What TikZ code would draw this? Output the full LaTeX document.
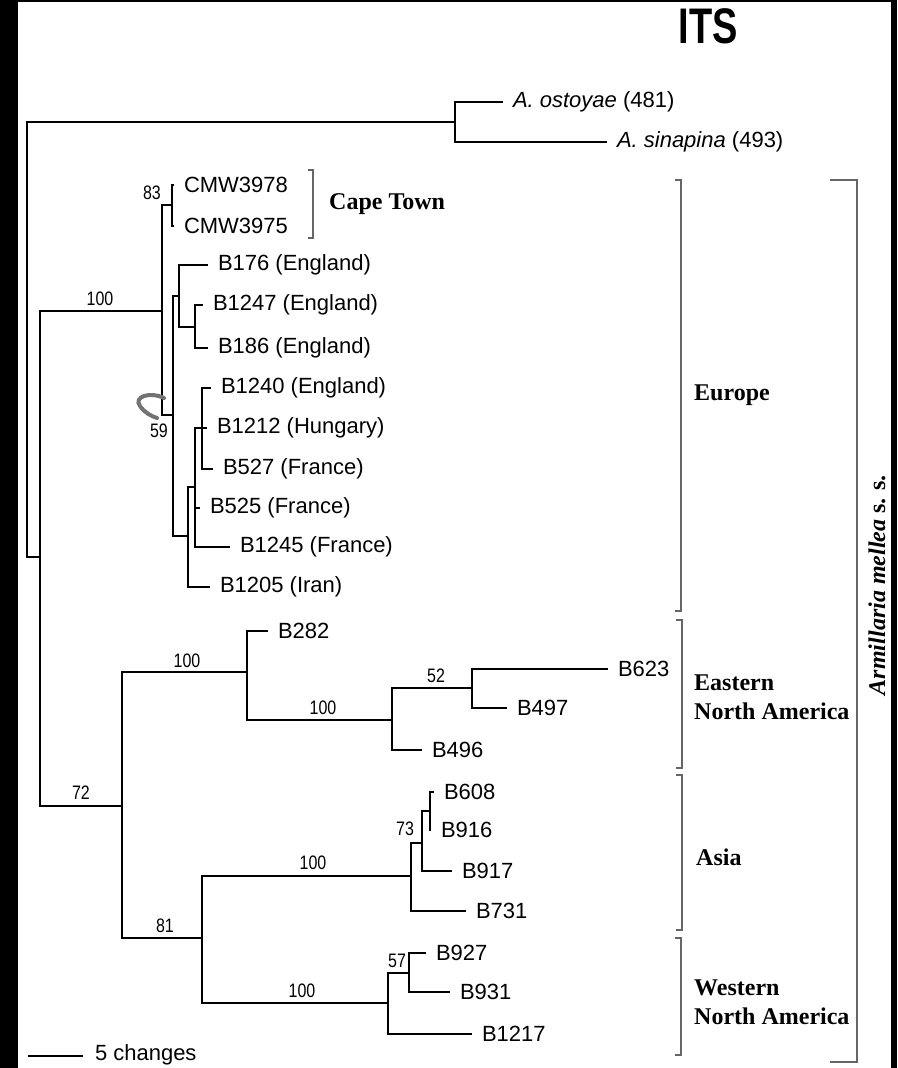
\documentclass[tikz,border=0pt]{standalone}
\usepackage{fontspec}
\setmainfont{Liberation Serif}
\setsansfont{Liberation Sans}
\newfontfamily\estrecha[FakeStretch=0.82]{Liberation Sans}
\newfontfamily\titulo[FakeStretch=0.76]{Liberation Sans}

\begin{document}
\begin{tikzpicture}[x=1pt, y=-1pt,
		rama/.style={draw, line width=2.6pt},
		hoja/.style={anchor=west, inner xsep=10pt, inner ysep=0pt, outer sep=0pt,
			font=\sffamily\fontsize{22}{24}\selectfont},
		soporte/.style={inner sep=0pt, font=\estrecha\fontsize{19.5}{21}\selectfont},
		corchete/.style={draw=black!60, line width=2.2pt},
		region/.style={anchor=west, inner sep=0pt, align=left,
			font=\bfseries\fontsize{24}{29}\selectfont}]
		\useasboundingbox (0,0) rectangle (897,1068);
		% Marco negro
		\fill[black] (0,0) rectangle (18,1068);
		\fill[black] (0,0) rectangle (897,2);
		\fill[black] (891,0) rectangle (897,1068);
		
		% Titulo
		\node[inner sep=0pt, font=\titulo\bfseries\fontsize{50}{50}\selectfont] (its) at (708,26) {ITS};
		
		% Nodos internos
		\coordinate (raiz) at (27,340);
		\coordinate (ext) at (455,122);
		\coordinate (int) at (40,557);
		\coordinate (eur) at (162,311);
		\coordinate (cab) at (172,205);
		\coordinate (n59) at (173,415);
		\coordinate (ng) at (179,296);
		\coordinate (nb) at (195,327);
		\coordinate (nc) at (188,536);
		\coordinate (nd) at (195,487);
		\coordinate (ne) at (202,428);
		\coordinate (n72) at (122,806);
		\coordinate (ena) at (247,672);
		\coordinate (enb) at (392,720);
		\coordinate (n52) at (472,688);
		\coordinate (n81) at (202,938);
		\coordinate (asi) at (411,876);
		\coordinate (n73) at (422,843);
		\coordinate (nf) at (430,811);
		\coordinate (wna) at (388,1003);
		\coordinate (n57) at (409,973);
		
		% Hojas
		\node[hoja] (ost) at (503,102) {\textit{A. ostoyae} (481)};
		\node[hoja] (sin) at (607,142) {\textit{A. sinapina} (493)};
		\node[hoja] (c78) at (174,185) {CMW3978};
		\node[hoja] (c75) at (174,226) {CMW3975};
		\node[hoja] (b176) at (208,265) {B176 (England)};
		\node[hoja] (b1247) at (203,305) {B1247 (England)};
		\node[hoja] (b186) at (208,348) {B186 (England)};
		\node[hoja] (b1240) at (211,388) {B1240 (England)};
		\node[hoja] (b1212) at (207,428) {B1212 (Hungary)};
		\node[hoja] (b527) at (213,469) {B527 (France)};
		\node[hoja] (b525) at (200,508) {B525 (France)};
		\node[hoja] (b1245) at (230,547) {B1245 (France)};
		\node[hoja] (b1205) at (210,587) {B1205 (Iran)};
		\node[hoja] (b282) at (268,631) {B282};
		\node[hoja] (b623) at (608,669) {B623};
		\node[hoja] (b497) at (507,708) {B497};
		\node[hoja] (b496) at (422,750) {B496};
		\node[hoja] (b608) at (434,792) {B608};
		\node[hoja] (b916) at (431,830) {B916};
		\node[hoja] (b917) at (452,871) {B917};
		\node[hoja] (b731) at (466,911) {B731};
		\node[hoja] (b927) at (426,953) {B927};
		\node[hoja] (b931) at (450,992) {B931};
		\node[hoja] (b1217) at (472,1034) {B1217};
		
		% Ramas
		\foreach \p/\h in {raiz/ext, raiz/int, int/eur, eur/cab, eur/n59, n59/ng, ng/nb,
			n59/nc, nc/nd, nd/ne, int/n72, n72/ena, ena/enb, enb/n52, n72/n81,
			n81/asi, asi/n73, n73/nf, n81/wna, wna/n57}
			\draw[rama] (\p) |- (\h);
		\foreach \p/\h in {ext/ost, ext/sin, cab/c78, cab/c75, ng/b176, nb/b1247, nb/b186,
			ne/b1240, ne/b1212, ne/b527, nd/b525, nd/b1245, nc/b1205, ena/b282,
			n52/b623, n52/b497, enb/b496, nf/b608, nf/b916, n73/b917, asi/b731,
			n57/b927, n57/b931, wna/b1217}
			\draw[rama] (\p) |- (\h.west);
		
		% Valores de soporte
		\node[soporte] (s1) at (100,299) {100};
		\node[soporte] (s2) at (152,193) {83};
		\node[soporte] (s3) at (159,431) {59};
		\node[soporte] (s4) at (81,793) {72};
		\node[soporte] (s5) at (187,661) {100};
		\node[soporte] (s6) at (323,708) {100};
		\node[soporte] (s7) at (436,676) {52};
		\node[soporte] (s8) at (405,829) {73};
		\node[soporte] (s9) at (313,863) {100};
		\node[soporte] (s10) at (165,926) {81};
		\node[soporte] (s11) at (397,961) {57};
		\node[soporte] (s12) at (302,991) {100};
		
		% Marca gris junto al 59
		\draw[black!55, line width=4pt, line cap=round] (164,398) .. controls (150,391) and (133,397) .. (140,406)
			.. controls (145,413) and (151,416) .. (157,418);
		
		% Corchetes
		\foreach \x/\a/\b/\t in {313/170/238/5, 681/180/611/6, 682/620/768/6, 682/775/930/6,
			681/938/1055/6, 857/180/1062/27}
			\draw[corchete] ({\x-\t},\a) -- (\x,\a) -- (\x,\b) -- ({\x-\t},\b);
		
		% Regiones
		\node[region] (cape) at (329,204) {Cape Town};
		\node[region] (europa) at (694,395) {Europe};
		\node[region] (este) at (694,697) {Eastern\\North America};
		\node[region] (asia) at (696,857) {Asia};
		\node[region] (oeste) at (694,1002) {Western\\North America};
		\node[rotate=90, inner sep=0pt, font=\bfseries\fontsize{24}{29}\selectfont] (arm) at (877,585)
			{\textit{Armillaria mellea} s. s.};
		
		% Escala
		\coordinate (e1) at (28,1056);
		\coordinate (e2) at (83,1056);
		\draw[line width=2.4pt] (e1) -- (e2);
		\node[hoja, inner xsep=0pt] (esc) at (95,1055) {5 changes};
	\end{tikzpicture}
\end{document}
